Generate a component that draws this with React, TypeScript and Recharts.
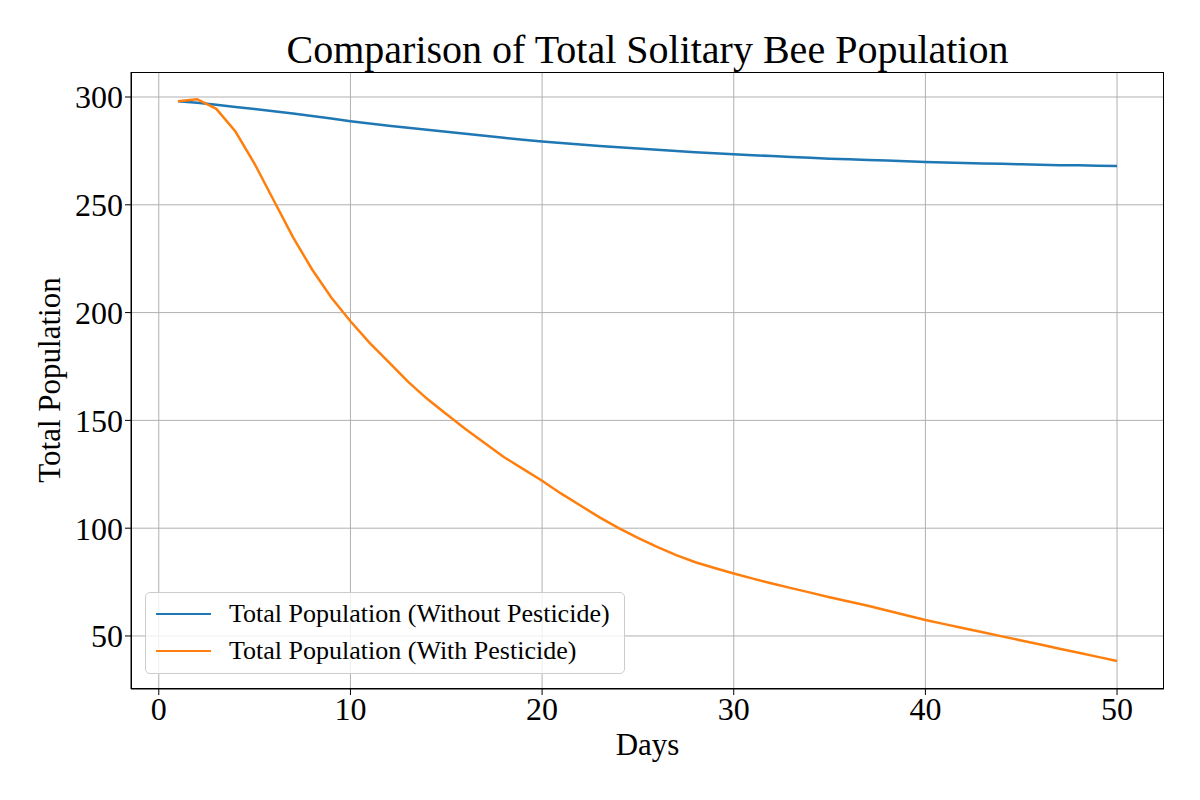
import { LineChart, Line, XAxis, YAxis, CartesianGrid } from "recharts";

const days = Array.from({ length: 50 }, (_, i) => i + 1);
const withoutPesticide = [
  298, 297.3, 296.4, 295.4, 294.4, 293.4, 292.3, 291.2, 290.0, 288.8,
  287.7, 286.7, 285.7, 284.8, 283.9, 283.0, 282.0, 281.1, 280.2, 279.4,
  278.7, 278.0, 277.3, 276.7, 276.1, 275.5, 274.9, 274.4, 273.9, 273.4,
  273.0, 272.6, 272.2, 271.8, 271.4, 271.1, 270.8, 270.5, 270.2, 269.9,
  269.6, 269.4, 269.2, 269.0, 268.8, 268.6, 268.4, 268.3, 268.1, 268.0,
];
const withPesticide = [
  298, 299, 294.5, 284, 269, 252, 235, 220, 207, 196,
  186, 177, 168, 160, 153, 146, 139.5, 133, 127.5, 122,
  116, 110.5, 105, 100, 95.5, 91.3, 87.5, 84.2, 81.5, 79,
  76.6, 74.3, 72.2, 70.1, 68, 66, 64, 61.8, 59.6, 57.4,
  55.5, 53.6, 51.7, 49.8, 47.9, 46, 44.1, 42.2, 40.3, 38.4,
];
const xTicks = [0, 10, 20, 30, 40, 50];
const yTicks = [50, 100, 150, 200, 250, 300];

const data = days.map((d, i) => ({ day: d, without: withoutPesticide[i], with: withPesticide[i] }));

const font = "'Liberation Serif', 'DejaVu Serif', serif";
const tick = { fill: "#000", fontSize: 32, fontFamily: font };

export default function App() {
  return (
    <div style={{ position: "relative", width: 1200, height: 800, margin: -8, background: "#fff", fontFamily: font }}>
      <LineChart width={1200} height={800} data={data} margin={{ top: 72, right: 36, bottom: 61, left: 56 }}>
        <CartesianGrid stroke="#b0b0b0" strokeWidth={1} horizontalValues={yTicks} verticalValues={xTicks} />
        <XAxis
          dataKey="day"
          type="number"
          domain={[-1.45, 52.45]}
          ticks={xTicks}
          height={50}
          tick={tick}
          tickSize={6}
          stroke="#000"
          allowDataOverflow
        />
        <YAxis
          type="number"
          domain={[25.4, 311.6]}
          ticks={yTicks}
          width={75}
          tick={tick}
          tickSize={6}
          stroke="#000"
          allowDataOverflow
        />
        <Line dataKey="without" stroke="#1f77b4" strokeWidth={2.5} dot={false} isAnimationActive={false} />
        <Line dataKey="with" stroke="#ff7f0e" strokeWidth={2.5} dot={false} isAnimationActive={false} />
      </LineChart>
      <div style={{ position: "absolute", left: 131, top: 72, width: 1033, height: 617, border: "1px solid #000", boxSizing: "border-box", pointerEvents: "none" }} />
      <div style={{ position: "absolute", left: 131, width: 1033, top: 26, textAlign: "center", fontSize: 40, lineHeight: "48px" }}>
        Comparison of Total Solitary Bee Population
      </div>
      <div style={{ position: "absolute", left: 131, width: 1033, top: 727, textAlign: "center", fontSize: 31, lineHeight: "36px" }}>
        Days
      </div>
      <div style={{ position: "absolute", left: 50, top: 380, transform: "translate(-50%, -50%) rotate(-90deg)", fontSize: 31, whiteSpace: "nowrap" }}>
        Total Population
      </div>
      <div style={{ position: "absolute", left: 145, top: 592, width: 480, height: 82, border: "1px solid #ccc", borderRadius: 5, background: "rgba(255,255,255,0.8)", boxSizing: "border-box", fontSize: 26 }}>
        {[["#1f77b4", "Total Population (Without Pesticide)"], ["#ff7f0e", "Total Population (With Pesticide)"]].map(([c, t], i) => (
          <div key={t} style={{ position: "absolute", left: 10, top: 6 + i * 37, height: 30, display: "flex", alignItems: "center" }}>
            <div style={{ width: 55, height: 2.5, background: c, marginRight: 18 }} />
            <span>{t}</span>
          </div>
        ))}
      </div>
    </div>
  );
}
